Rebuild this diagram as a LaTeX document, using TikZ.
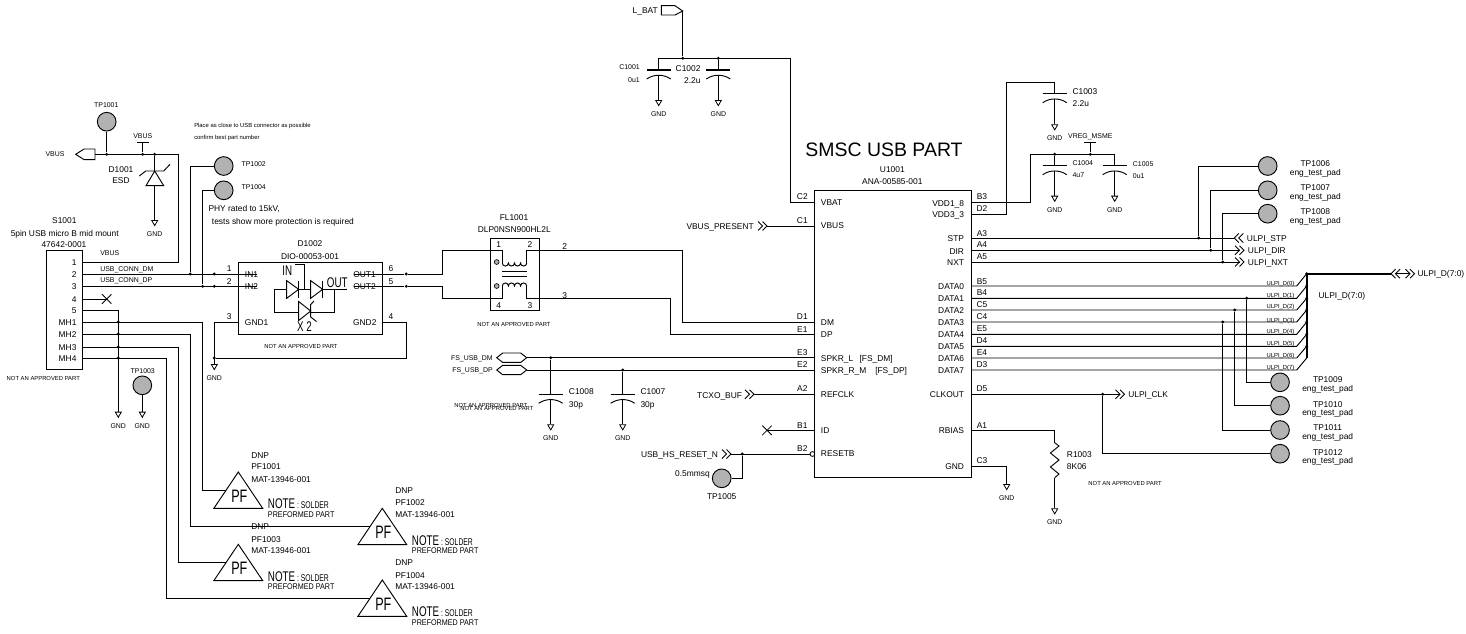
\documentclass[tikz,border=0pt]{standalone}
\usepackage{fontspec}
\setmainfont{Liberation Sans}
\newfontfamily\cadnarrow[FakeStretch=0.7]{Liberation Sans}
\newfontfamily\cadwide[FakeStretch=0.87]{Liberation Sans}
\usetikzlibrary{shapes.geometric,shapes.misc}
\newcommand{\gnd}[3]{%
  \node[gndtri] (#1) at (#2,#3) {};
  \node[lb2] (#1t) at ([yshift=-5.6pt]#1.south) {GND};
}
\tikzset{
    w1/.style={draw=black, line width=0.7pt},
    w2/.style={draw=black, line width=1.4pt},
    lb1/.style={font=\fontsize{4.4}{5}\selectfont, inner sep=0pt, text height=3.2pt, text depth=0pt},
    lb2/.style={font=\fontsize{5.2}{6}\selectfont, inner sep=0pt, text height=3.7pt, text depth=0pt},
    lb3/.style={font=\fontsize{6.3}{7}\selectfont, inner sep=0pt, text height=4.5pt, text depth=0pt},
    jn/.style={circle, fill=black, inner sep=0pt, minimum size=2.4pt},
    tp/.style={circle, draw=black, line width=0.7pt, fill=black!30, inner sep=0pt, minimum size=14pt},
    box/.style={draw=black, line width=0.7pt, inner sep=0pt},
    xm/.style={cross out, draw=black, line width=0.6pt, inner sep=0pt, minimum size=6.5pt},
    gndtri/.style={regular polygon, regular polygon sides=3, shape border rotate=180, draw=black,
        line width=0.6pt, inner sep=0pt, minimum size=5.2pt, anchor=north},
    chev/.pic={
        \draw[w1] (0,-4.5) -- (4.5,0) -- (0,4.5) (4.5,-4.5) -- (9,0) -- (4.5,4.5);
        \coordinate (-tip) at (9,0);
        \coordinate (-tail) at (4.5,0);
    },
    capa/.pic={
        \draw[draw=black, line width=1pt] (-12,0) -- (12,0);
        \draw[w1] (-12,9) .. controls (-5,4) and (5,4) .. (12,9);
        \coordinate (-t) at (0,0);
        \coordinate (-b) at (0,5.3);
    },
    pf/.pic={
        \draw[w1] (0,0) -- (24.4,36.3) -- (-24.4,36.3) -- cycle;
        \node[inner sep=0pt, font=\cadnarrow\fontsize{13.5}{14}\selectfont, text height=9.7pt, text depth=0pt] (-a) at (1,24) {PF};
        \node[anchor=west, inner sep=0pt, font=\cadnarrow\fontsize{7.3}{8}\selectfont, text height=5.2pt, text depth=0pt] (-b) at (29.4,33.5) {{\fontsize{10.5}{11}\selectfont NOTE} : SOLDER};
        \node[anchor=west, inner sep=0pt, font=\cadwide\fontsize{6.2}{7}\selectfont, text height=4.5pt, text depth=0pt] (-c) at (29.4,42.3) {PREFORMED PART};
        \coordinate (-in) at (-12,18);
    }
}
\begin{document}
\begin{tikzpicture}[x=0.75pt, y=-0.75pt]
\useasboundingbox (0,0) rectangle (1466,633);

% Connector S1001
\node[box, minimum width=27.3pt, minimum height=89.6pt] (S1) at (64.5,310) {};
\node[lb3] (S1a) at (64.3,220) {S1001};
\node[lb3] (S1b) at (64.7,233) {5pin USB micro B mid mount};
\node[lb3] (S1c) at (64,244) {47642-0001};
\node[lb3, anchor=east] (S1p1) at (76.7,262) {1};
\node[lb3, anchor=east] (S1p2) at (76.7,274) {2};
\node[lb3, anchor=east] (S1p3) at (76.7,286.3) {3};
\node[lb3, anchor=east] (S1p4) at (76.7,299) {4};
\node[lb3, anchor=east] (S1p5) at (76.7,310) {5};
\node[lb3, anchor=east] (S1p6) at (76.7,322) {MH1};
\node[lb3, anchor=east] (S1p7) at (76.7,334) {MH2};
\node[lb3, anchor=east] (S1p8) at (76.7,347) {MH3};
\node[lb3, anchor=east] (S1p9) at (76.7,358) {MH4};
\node[lb1] (S1n) at (43.3,378.7) {NOT AN APPROVED PART};
\node[lb2, anchor=west] (Lvb) at (100,253.3) {VBUS};
\node[lb2, anchor=west] (Ldm) at (100,269.3) {USB\_CONN\_DM};
\node[lb2, anchor=west] (Ldp) at (100,280) {USB\_CONN\_DP};
\coordinate (SP1) at (82.7,262);
\coordinate (SP2) at (82.7,274);
\coordinate (SP3) at (82.7,286.3);
\coordinate (SP4) at (82.7,299);
\coordinate (SP5) at (82.7,310);
\coordinate (SP6) at (82.7,322);
\coordinate (SP7) at (82.7,334);
\coordinate (SP8) at (82.7,347);
\coordinate (SP9) at (82.7,358);
\node[xm] (X1) at (106.7,299) {};
\node[jn] (JM1) at (118.3,322) {};
\node[jn] (JM2) at (118.3,334) {};
\node[jn] (JM3) at (118.3,347) {};
\node[jn] (JM4) at (118.3,358) {};
\coordinate (KM0) at (118.3,310);
\coordinate (KM1) at (202.7,322);
\coordinate (KM2) at (190.7,334);
\coordinate (KM3) at (178.7,347);
\coordinate (KM4) at (166.7,358);
\gnd{G1}{118.3}{411.7}

% VBUS net with D1001
\node[tp] (TP1) at (106.7,121.7) {};
\node[lb2] (TP1t) at (106.3,105) {TP1001};
\node[lb2] (Vbl) at (55,154.3) {VBUS};
\node[lb2] (Vbt) at (142.7,136.3) {VBUS};
\node[jn] (J1) at (106.7,154.3) {};
\node[jn] (J2) at (142.7,154.3) {};
\node[jn] (J3) at (154.7,154.3) {};
\coordinate (VBa) at (95,154.3);
\coordinate (VBb) at (142.7,142.3);
\coordinate (VBc) at (178.3,154.3);
\coordinate (VBd) at (154.7,171);
\coordinate (VBe) at (154.7,185.7);
\draw[w1] (75.7,154.3) -- (84,149) -- (95,149) -- (95,159.6) -- (84,159.6) -- cycle;
\draw[w1] (137,142.3) -- (148.7,142.3);
\draw[w1] (146,185.7) -- (163.7,185.7) -- (154.7,171) -- cycle;
\draw[w1] (139.3,176) -- (145.7,171) -- (163.7,171) -- (170,164.3);
\node[lb3] (D1a) at (121,169) {D1001};
\node[lb3] (D1b) at (121,180) {ESD};
\gnd{G2}{154.7}{220}

% Test points and notes
\node[lb1, anchor=west] (N1) at (194,125.7) {Place as close to USB connector as possible};
\node[lb1, anchor=west] (N2) at (194,137) {confirm best part number};
\node[tp] (TP2) at (223.7,166) {};
\node[lb2, anchor=west] (TP2t) at (241.3,163.7) {TP1002};
\node[tp] (TP4) at (223.7,190.3) {};
\node[lb2, anchor=west] (TP4t) at (241.3,187.3) {TP1004};
\node[lb3, anchor=west] (N3) at (208.3,208) {PHY rated to 15kV,};
\node[lb3, anchor=west] (N4) at (211.7,221) {tests show more protection is required};
\node[jn] (J4) at (190.3,274) {};
\node[jn] (J5) at (202.7,286.3) {};
\node[jn] (J6) at (214.3,274) {};
\node[jn] (J7) at (214.3,286.3) {};
\node[tp] (TP3) at (142.3,385.3) {};
\node[lb2] (TP3t) at (142.7,370.7) {TP1003};
\gnd{G3}{142.3}{411.7}

% D1002
\node[box, minimum width=108pt, minimum height=54.2pt] (D2) at (310.7,298.2) {};
\node[lb3] (D2a) at (310,243.7) {D1002};
\node[lb3] (D2b) at (310,256.7) {DIO-00053-001};
\node[lb3, anchor=west] (D2p1) at (244.7,274) {IN1};
\node[lb3, anchor=west] (D2p2) at (244.7,286.3) {IN2};
\node[lb3, anchor=west] (D2p3) at (244.7,322) {GND1};
\node[lb3, anchor=east] (D2p4) at (376.7,322) {GND2};
\node[lb3, anchor=east] (D2p5) at (376,286.3) {OUT2};
\node[lb3, anchor=east] (D2p6) at (376,274) {OUT1};
\node[lb3] (D2n1) at (229.3,268) {1};
\node[lb3] (D2n2) at (229.3,281) {2};
\node[lb3] (D2n3) at (229.3,316) {3};
\node[lb3] (D2n4) at (391,316) {4};
\node[lb3] (D2n5) at (391,281) {5};
\node[lb3] (D2n6) at (391,268) {6};
\node[lb1] (D2n) at (301,346.3) {NOT AN APPROVED PART};
\node[inner sep=0pt, font=\cadnarrow\fontsize{10.5}{11}\selectfont, text height=7.5pt, text depth=0pt] (Din) at (287.3,270) {IN};
\node[inner sep=0pt, font=\cadnarrow\fontsize{10.5}{11}\selectfont, text height=7.5pt, text depth=0pt] (Dout) at (337.3,282.7) {OUT};
\node[inner sep=0pt, font=\cadnarrow\fontsize{10.5}{11}\selectfont, text height=7.5pt, text depth=0pt] (Dx) at (304.5,326.7) {X 2};
\draw[w1] (295,264.7) -- (304.3,264.7) -- (304.3,289.3);
\draw[w1] (286.7,280.7) -- (298.7,289.3) -- (286.7,298.3) -- cycle;
\draw[w1] (298.7,280.7) -- (298.7,298.3);
\draw[w1] (310.7,280.7) -- (322.7,289.3) -- (310.7,298.3) -- cycle;
\draw[w1] (322.7,280.7) -- (322.7,298.3);
\draw[w1] (274.3,289.3) -- (286.7,289.3) (298.7,289.3) -- (310.7,289.3) (322.7,289.3) -- (346.7,289.3);
\draw[w1] (274.3,289.3) -- (274.3,312.3) -- (298.7,312.3);
\draw[w1] (334.7,289.3) -- (334.7,312.3) -- (310.7,312.3);
\draw[w1] (298.7,301.5) -- (310.7,311) -- (298.7,320.5) -- cycle;
\draw[w1] (314,301) -- (310.7,304.5) -- (310.7,317) -- (316.5,321.5);
\coordinate (DI1) at (256.7,274);
\coordinate (DI2) at (256.7,286.3);
\coordinate (DO1) at (354,274);
\coordinate (DO2) at (354,286.3);
\coordinate (DG1) at (238.7,322);
\coordinate (DG2) at (382.7,322);
\node[jn] (J8) at (406.3,274) {};
\node[jn] (J9) at (406.3,286.3) {};
\node[jn] (J10) at (214.3,358) {};
\coordinate (KG) at (406.3,358);
\gnd{G4}{214.3}{364}

% FL1001
\node[box, minimum width=36.2pt, minimum height=53.8pt] (FL) at (514.9,274.2) {};
\node[lb3] (FLa) at (514,217) {FL1001};
\node[lb3] (FLb) at (514.3,229) {DLP0NSN900HL2L};
\node[lb3] (FLn1) at (498.7,244.3) {1};
\node[lb3] (FLn2) at (530,244.3) {2};
\node[lb3] (FLn3) at (530,305) {3};
\node[lb3] (FLn4) at (498.7,305) {4};
\node[lb3] (FLw2) at (564.7,246.7) {2};
\node[lb3] (FLw3) at (564.7,295) {3};
\node[lb1] (FLn) at (514,324.3) {NOT AN APPROVED PART};
\node[circle, draw=black, line width=0.5pt, fill=black!30, inner sep=0pt, minimum size=3.6pt] (FLd1) at (496.7,262) {};
\node[circle, draw=black, line width=0.5pt, fill=black!30, inner sep=0pt, minimum size=3.6pt] (FLd2) at (496.7,286) {};
\draw[w1] (502.3,263) arc[start angle=180, end angle=0, radius=3.05] arc[start angle=180, end angle=0, radius=3.05] arc[start angle=180, end angle=0, radius=3.05] arc[start angle=180, end angle=0, radius=3.05];
\draw[w1] (502.3,286) arc[start angle=180, end angle=360, radius=3.05] arc[start angle=180, end angle=360, radius=3.05] arc[start angle=180, end angle=360, radius=3.05] arc[start angle=180, end angle=360, radius=3.05];
\draw[w1] (502.3,271.7) -- (526.7,271.7) (502.3,276.7) -- (526.7,276.7);
\coordinate (FA1) at (442.7,250.3);
\coordinate (FA2) at (442.7,298.3);
\coordinate (FB1) at (502.3,263);
\coordinate (FB2) at (502.3,286);
\coordinate (FC1) at (526.7,263);
\coordinate (FC2) at (526.7,286);
\coordinate (FD1) at (526.7,250.3);
\coordinate (FD2) at (526.7,298.3);
\coordinate (FK1) at (682.7,322);
\coordinate (FK2) at (670.7,334);

% L_BAT and C1001, C1002
\node[lb3, anchor=east] (Lb) at (658,10.7) {L\_BAT};
\draw[w1] (661.3,5.7) -- (675,5.7) -- (682.7,11) -- (675,15) -- (661.3,15) -- cycle;
\coordinate (Lbt) at (682.7,11);
\node[jn] (J11) at (682.7,58.3) {};
\node[jn] (J12) at (718.3,58.3) {};
\coordinate (KC1) at (658.7,58.3);
\coordinate (KC2) at (790.3,58.3);
\pic (C1) at (658.7,70) {capa};
\pic (C2) at (718.3,70) {capa};
\node[lb2, anchor=east] (C1a) at (640,67.3) {C1001};
\node[lb2, anchor=east] (C1b) at (640,79.7) {0u1};
\node[lb3, anchor=east] (C2a) at (700.7,68) {C1002};
\node[lb3, anchor=east] (C2b) at (700.7,80) {2.2u};
\gnd{G5}{658.7}{100}
\gnd{G6}{718.3}{100}

% C1003, C1004, C1005
\pic (C3) at (1054.7,93.7) {capa};
\node[lb3, anchor=west] (C3a) at (1072.3,91) {C1003};
\node[lb3, anchor=west] (C3b) at (1072.3,103) {2.2u};
\gnd{G7}{1054.7}{124.3}
\coordinate (KV1) at (1006.7,82);
\coordinate (KV2) at (1054.7,82);
\coordinate (KV3) at (1030.7,154.3);
\coordinate (KV4) at (1114.7,154.3);
\node[lb2] (Vr) at (1090.3,136.3) {VREG\_MSME};
\draw[w1] (1084.3,142.3) -- (1096.3,142.3);
\coordinate (Vrb) at (1090.3,142.3);
\node[jn] (J13) at (1054.7,154.3) {};
\node[jn] (J14) at (1090.3,154.3) {};
\pic (C4) at (1054.7,165.7) {capa};
\pic (C5) at (1114.7,165.7) {capa};
\node[lb2, anchor=west] (C4a) at (1072.3,163.3) {C1004};
\node[lb2, anchor=west] (C4b) at (1072.3,175) {4u7};
\node[lb2, anchor=west] (C5a) at (1132.7,163.7) {C1005};
\node[lb2, anchor=west] (C5b) at (1132.7,175.7) {0u1};
\gnd{G8}{1054.7}{195.7}
\gnd{G9}{1114.7}{195.7}

% U1001
\node[box, minimum width=117.2pt, minimum height=215.5pt] (U1) at (892.85,334) {};
\node[font=\fontsize{14.6}{16}\selectfont, inner sep=0pt] (U1t) at (884,150) {SMSC USB PART};
\node[lb3] (U1a) at (892.3,169) {U1001};
\node[lb3] (U1b) at (892.3,181) {ANA-00585-001};
\node[lb3, anchor=west] (UL1) at (820.7,202.7) {VBAT};
\node[lb3, anchor=west] (UL2) at (820.7,225.7) {VBUS};
\node[lb3, anchor=west] (UL3) at (820.7,322) {DM};
\node[lb3, anchor=west] (UL4) at (820.7,334) {DP};
\node[lb3, anchor=west] (UL5) at (820.7,358) {SPKR\_L};
\node[lb3, anchor=west] (UL5b) at (859.3,358) {[FS\_DM]};
\node[lb3, anchor=west] (UL6) at (820.7,370) {SPKR\_R\_M};
\node[lb3, anchor=west] (UL6b) at (875,370) {[FS\_DP]};
\node[lb3, anchor=west] (UL7) at (820.7,394.3) {REFCLK};
\node[lb3, anchor=west] (UL8) at (820.7,430) {ID};
\node[lb3, anchor=west] (UL9) at (820.7,453.7) {RESETB};
\node[lb3] (UPc2) at (802.3,196) {C2};
\node[lb3] (UPc1) at (802.3,220) {C1};
\node[lb3] (UPd1) at (802.3,316) {D1};
\node[lb3] (UPe1) at (802.3,329) {E1};
\node[lb3] (UPe3) at (802.3,352) {E3};
\node[lb3] (UPe2) at (802.3,364) {E2};
\node[lb3] (UPa2) at (802.3,388) {A2};
\node[lb3] (UPb1) at (802.3,425) {B1};
\node[lb3] (UPb2) at (802.3,448) {B2};
\node[lb3, anchor=east] (UR1) at (964.3,203.3) {VDD1\_8};
\node[lb3, anchor=east] (UR2) at (964.3,214.3) {VDD3\_3};
\node[lb3, anchor=east] (UR3) at (964.3,238.3) {STP};
\node[lb3, anchor=east] (UR4) at (964.3,251) {DIR};
\node[lb3, anchor=east] (UR5) at (964.3,262) {NXT};
\node[lb3, anchor=east] (UR6) at (964.3,286.3) {DATA0};
\node[lb3, anchor=east] (UR7) at (964.3,298.3) {DATA1};
\node[lb3, anchor=east] (UR8) at (964.3,310) {DATA2};
\node[lb3, anchor=east] (UR9) at (964.3,322) {DATA3};
\node[lb3, anchor=east] (UR10) at (964.3,334.3) {DATA4};
\node[lb3, anchor=east] (UR11) at (964.3,346.3) {DATA5};
\node[lb3, anchor=east] (UR12) at (964.3,358) {DATA6};
\node[lb3, anchor=east] (UR13) at (964.3,370) {DATA7};
\node[lb3, anchor=east] (UR14) at (964.3,394.7) {CLKOUT};
\node[lb3, anchor=east] (UR15) at (964.3,430) {RBIAS};
\node[lb3, anchor=east] (UR16) at (964.3,466) {GND};
\node[lb3] (UNb3) at (982,196) {B3};
\node[lb3] (UNd2) at (982,208.3) {D2};
\node[lb3] (UNa3) at (982,233) {A3};
\node[lb3] (UNa4) at (982,244) {A4};
\node[lb3] (UNa5) at (982,256) {A5};
\node[lb3] (UNb5) at (982,281) {B5};
\node[lb3] (UNb4) at (982,292.3) {B4};
\node[lb3] (UNc5) at (982,304) {C5};
\node[lb3] (UNc4) at (982,316) {C4};
\node[lb3] (UNe5) at (982,328) {E5};
\node[lb3] (UNd4) at (982,340.7) {D4};
\node[lb3] (UNe4) at (982,352) {E4};
\node[lb3] (UNd3) at (982,364) {D3};
\node[lb3] (UNd5) at (982,388) {D5};
\node[lb3] (UNa1) at (982,425.3) {A1};
\node[lb3] (UNc3) at (982,460) {C3};
% pins, left side
\coordinate (PC2) at (814.7,202.3);
\coordinate (PC1) at (814.7,226);
\coordinate (PD1) at (814.7,322);
\coordinate (PE1) at (814.7,334);
\coordinate (PE3) at (814.7,357.7);
\coordinate (PE2) at (814.7,370);
\coordinate (PA2) at (814.7,394.3);
\coordinate (PB1) at (814.7,430.3);
\node[circle, draw=black, line width=0.6pt, inner sep=0pt, minimum size=3.6pt] (PB2) at (812.4,454) {};
% pins, right side
\coordinate (PB3) at (971,202.3);
\coordinate (PD2) at (971,214);
\coordinate (PA3) at (971,238);
\coordinate (PA4) at (971,250.3);
\coordinate (PA5) at (971,262);
\coordinate (PB5) at (971,286);
\coordinate (PB4) at (971,298.3);
\coordinate (PC5) at (971,310);
\coordinate (PC4) at (971,322);
\coordinate (PE5) at (971,334.3);
\coordinate (PD4) at (971,346.3);
\coordinate (PE4) at (971,358);
\coordinate (PD3) at (971,370);
\coordinate (PD5) at (971,394.3);
\coordinate (PA1) at (971,430);
\coordinate (PC3) at (971,466);

% Left side nets of U1001
\node[lb3, anchor=east] (Lvp) at (754,226) {VBUS\_PRESENT};
\pic (CV1) at (758,226) {chev};
\node[lb3, anchor=east] (Ltc) at (742.3,395) {TCXO\_BUF};
\pic (CV2) at (745,394.3) {chev};
\node[xm] (X2) at (767,430.3) {};
\node[lb3, anchor=east] (Lrs) at (718.3,454) {USB\_HS\_RESET\_N};
\pic (CV3) at (722,454) {chev};
\node[jn] (J15) at (742.3,454) {};
\node[tp] (TP5) at (721.7,478.3) {};
\coordinate (KT5) at (742.3,478.3);
\node[lb3, anchor=east] (TP5a) at (710,473.3) {0.5mmsq};
\node[lb3] (TP5t) at (721.7,496) {TP1005};
\node[lb2, anchor=east] (Lfm) at (493,357.7) {FS\_USB\_DM};
\node[lb2, anchor=east] (Lfp) at (493,370) {FS\_USB\_DP};
\draw[w1] (496.7,357.7) -- (502.7,353) -- (520.7,353) -- (526.7,357.7) -- (520.7,362.4) -- (502.7,362.4) -- cycle;
\draw[w1] (496.7,370) -- (502.7,365.3) -- (520.7,365.3) -- (526.7,370) -- (520.7,374.7) -- (502.7,374.7) -- cycle;
\coordinate (HX1) at (526.7,357.7);
\coordinate (HX2) at (526.7,370);
\node[jn] (J16) at (550.7,357.7) {};
\node[jn] (J17) at (622.7,370) {};
\pic (C8) at (550.7,394.3) {capa};
\pic (C7) at (622.7,394.3) {capa};
\node[lb3, anchor=west] (C8a) at (568.7,391) {C1008};
\node[lb3, anchor=west] (C8b) at (568.7,404) {30p};
\node[lb3, anchor=west] (C7a) at (640.3,391) {C1007};
\node[lb3, anchor=west] (C7b) at (640.3,404) {30p};
\node[lb1, anchor=west] (C8n1) at (454,405.7) {NOT AN APPROVED PART};
\node[lb1, anchor=west] (C8n2) at (460,408.7) {NOT AN APPROVED PART};
\gnd{G10}{550.7}{424.3}
\gnd{G11}{622.7}{424.3}

% ULPI control nets
\node[tp] (TP6) at (1267.7,166) {};
\node[tp] (TP7) at (1267.7,190.3) {};
\node[tp] (TP8) at (1267.7,213.7) {};
\node[lb3] (TP6a) at (1315.3,163.7) {TP1006};
\node[lb3] (TP6b) at (1315.3,172.3) {eng\_test\_pad};
\node[lb3] (TP7a) at (1315.3,187.3) {TP1007};
\node[lb3] (TP7b) at (1315.3,196) {eng\_test\_pad};
\node[lb3] (TP8a) at (1315.3,211.7) {TP1008};
\node[lb3] (TP8b) at (1315.3,220.3) {eng\_test\_pad};
\node[jn] (J18) at (1198.7,238) {};
\node[jn] (J19) at (1210.7,250.3) {};
\node[jn] (J20) at (1222.7,262) {};
\pic[rotate=180] (CV4) at (1243.3,238) {chev};
\pic (CV5) at (1235,250.3) {chev};
\pic (CV6) at (1235,262) {chev};
\node[lb3, anchor=west] (Lst) at (1246.7,238) {ULPI\_STP};
\node[lb3, anchor=west] (Ldi) at (1247.7,250.7) {ULPI\_DIR};
\node[lb3, anchor=west] (Lnx) at (1247.7,262) {ULPI\_NXT};

% ULPI data bus
\node[jn] (B0) at (1306.7,273.7) {};
\node[jn] (B1) at (1306.7,286) {};
\node[jn] (B2) at (1306.7,298.3) {};
\node[jn] (B3) at (1306.7,310) {};
\node[jn] (B4) at (1306.7,322) {};
\node[jn] (B5) at (1306.7,334.3) {};
\node[jn] (B6) at (1306.7,346.3) {};
\coordinate (B7) at (1306.7,358);
\coordinate (E0) at (1296.7,286);
\coordinate (E1) at (1296.7,298.3);
\coordinate (E2) at (1296.7,310);
\coordinate (E3) at (1296.7,322);
\coordinate (E4) at (1296.7,334.3);
\coordinate (E5) at (1296.7,346.3);
\coordinate (E6) at (1296.7,358);
\coordinate (E7) at (1296.7,370);
\node[lb1, anchor=east] (T0) at (1294.6,283.7) {ULPI\_D(0)};
\node[lb1, anchor=east] (T1) at (1294.6,295.7) {ULPI\_D(1)};
\node[lb1, anchor=east] (T2) at (1294.6,306.7) {ULPI\_D(2)};
\node[lb1, anchor=east] (T3) at (1294.6,320) {ULPI\_D(3)};
\node[lb1, anchor=east] (T4) at (1294.6,331.7) {ULPI\_D(4)};
\node[lb1, anchor=east] (T5) at (1294.6,343.7) {ULPI\_D(5)};
\node[lb1, anchor=east] (T6) at (1294.6,355.3) {ULPI\_D(6)};
\node[lb1, anchor=east] (T7) at (1294.6,367.7) {ULPI\_D(7)};
\pic[rotate=180] (CV7) at (1400,273.7) {chev};
\pic (CV8) at (1405.5,273.7) {chev};
\node[lb3, anchor=west] (Lbu1) at (1417.3,273.7) {ULPI\_D(7:0)};
\node[lb3, anchor=west] (Lbu2) at (1318.3,295) {ULPI\_D(7:0)};
\node[jn] (J21) at (1246.7,298.3) {};
\node[jn] (J22) at (1234.7,310) {};
\node[jn] (J23) at (1222.7,322) {};
\node[tp] (TP9) at (1280,382.3) {};
\node[tp] (TP10) at (1280,405.7) {};
\node[tp] (TP11) at (1280,430) {};
\node[tp] (TP12) at (1280,453.7) {};
\node[lb3] (TP9a) at (1327.7,379.3) {TP1009};
\node[lb3] (TP9b) at (1327.7,388.3) {eng\_test\_pad};
\node[lb3] (TP10a) at (1327.7,404) {TP1010};
\node[lb3] (TP10b) at (1327.7,412.3) {eng\_test\_pad};
\node[lb3] (TP11a) at (1327.7,427.3) {TP1011};
\node[lb3] (TP11b) at (1327.7,436.3) {eng\_test\_pad};
\node[lb3] (TP12a) at (1327.7,452) {TP1012};
\node[lb3] (TP12b) at (1327.7,460.3) {eng\_test\_pad};

% CLKOUT, RBIAS, GND
\node[jn] (J24) at (1102.7,394.3) {};
\pic (CV9) at (1115.5,394.3) {chev};
\node[lb3, anchor=west] (Lck) at (1128,394.7) {ULPI\_CLK};
\coordinate (RT) at (1054.7,442.7);
\coordinate (RB) at (1054.7,477.7);
\draw[w1] (RT) -- (1059,446) -- (1050.4,453) -- (1059,460) -- (1050.4,467) -- (1059,474) -- (RB);
\node[lb3, anchor=west] (R1a) at (1066.7,454) {R1003};
\node[lb3, anchor=west] (R1b) at (1066.7,466) {8K06};
\node[lb1] (R1n) at (1125,483.7) {NOT AN APPROVED PART};
\gnd{G12}{1054.7}{508.3}
\gnd{G13}{1006.7}{484}

% PF parts
\pic (PF1) at (238.3,472) {pf};
\pic (PF2) at (382.3,508.3) {pf};
\pic (PF3) at (238.3,544.3) {pf};
\pic (PF4) at (382.3,580) {pf};
\node[lb3, anchor=west] (PF1a) at (251,455) {DNP};
\node[lb3, anchor=west] (PF1b) at (251,466) {PF1001};
\node[lb3, anchor=west] (PF1c) at (251,479) {MAT-13946-001};
\node[lb3, anchor=west] (PF2a) at (395,490.7) {DNP};
\node[lb3, anchor=west] (PF2b) at (395,502) {PF1002};
\node[lb3, anchor=west] (PF2c) at (395,514) {MAT-13946-001};
\node[lb3, anchor=west] (PF3a) at (251,526.7) {DNP};
\node[lb3, anchor=west] (PF3b) at (251,539) {PF1003};
\node[lb3, anchor=west] (PF3c) at (251,550) {MAT-13946-001};
\node[lb3, anchor=west] (PF4a) at (395,562.7) {DNP};
\node[lb3, anchor=west] (PF4b) at (395,575) {PF1004};
\node[lb3, anchor=west] (PF4c) at (395,586.7) {MAT-13946-001};

% Wires, connector side
\draw[w1] (VBa) -- (VBc) |- (SP1);
\draw[w1] (TP1) -- (J1);
\draw[w1] (VBb) -- (J2);
\draw[w1] (J3) -- (VBd);
\draw[w1] (VBe) -- (G2.north);
\draw[w1] (TP2) -| (J4);
\draw[w1] (TP4) -| (J5);
\draw[w1] (SP2) -- (DI1);
\draw[w1] (SP3) -- (DI2);
\draw[w1] (SP4) -- (X1.center);
\draw[w1] (SP5) -- (KM0) -- (G1.north);
\draw[w1] (SP6) -- (KM1) |- (PF1-in);
\draw[w1] (SP7) -- (KM2) |- (PF2-in);
\draw[w1] (SP8) -- (KM3) |- (PF3-in);
\draw[w1] (SP9) -- (KM4) |- (PF4-in);
\draw[w1] (TP3) -- (G3.north);

% Wires, D1002 and FL1001
\draw[w1] (DG1) -| (G4.north);
\draw[w1] (DG2) -| (KG) -- (J10);
\draw[w1] (DO1) -- (J8) -| (FA1) -| (FB1);
\draw[w1] (DO2) -- (J9) -| (FA2) -| (FB2);
\draw[w1] (FC1) -- (FD1) -| (FK1) -- (PD1);
\draw[w1] (FC2) -- (FD2) -| (FK2) -- (PE1);

% Wires, U1001 left side
\draw[w1] (Lbt) -- (J11);
\draw[w1] (KC1) -- (KC2) |- (PC2);
\draw[w1] (KC1) -- (C1-t);
\draw[w1] (J12) -- (C2-t);
\draw[w1] (C1-b) -- (G5.north);
\draw[w1] (C2-b) -- (G6.north);
\draw[w1] (CV1-tip) -- (PC1);
\draw[w1] (HX1) -- (PE3);
\draw[w1] (HX2) -- (PE2);
\draw[w1] (J16) -- (C8-t);
\draw[w1] (J17) -- (C7-t);
\draw[w1] (C8-b) -- (G10.north);
\draw[w1] (C7-b) -- (G11.north);
\draw[w1] (CV2-tip) -- (PA2);
\draw[w1] (X2.center) -- (PB1);
\draw[w1] (CV3-tip) -- (PB2);
\draw[w1] (J15) -- (KT5) -- (TP5);

% Wires, U1001 right side
\draw[w1] (PD2) -| (KV1) |- (KV2) -- (C3-t);
\draw[w1] (C3-b) -- (G7.north);
\draw[w1] (PB3) -| (KV3) -- (KV4) -- (C5-t);
\draw[w1] (Vrb) -- (J14);
\draw[w1] (J13) -- (C4-t);
\draw[w1] (C4-b) -- (G8.north);
\draw[w1] (C5-b) -- (G9.north);
\draw[w1] (PA3) -- (CV4-tip);
\draw[w1] (PA4) -- (CV5-tail);
\draw[w1] (PA5) -- (CV6-tail);
\draw[w1] (TP6) -| (J18);
\draw[w1] (TP7) -| (J19);
\draw[w1] (TP8) -| (J20);
\draw[w1] (PB5) -- (E0) -- (B0.center);
\draw[w1] (PB4) -- (E1) -- (B1.center);
\draw[w1] (PC5) -- (E2) -- (B2.center);
\draw[w1] (PC4) -- (E3) -- (B3.center);
\draw[w1] (PE5) -- (E4) -- (B4.center);
\draw[w1] (PD4) -- (E5) -- (B5.center);
\draw[w1] (PE4) -- (E6) -- (B6.center);
\draw[w1] (PD3) -- (E7) -- (B7);
\draw[w2] (B0.center) -- (B7);
\draw[w2] (B0.center) -- (CV7-tip);
\draw[w1] (CV7-tail) -- (CV8-tail);
\draw[w1] (J21) |- (TP9);
\draw[w1] (J22) |- (TP10);
\draw[w1] (J23) |- (TP11);
\draw[w1] (J24) |- (TP12);
\draw[w1] (PD5) -- (CV9-tail);
\draw[w1] (PA1) -| (RT);
\draw[w1] (RB) -- (G12.north);
\draw[w1] (PC3) -| (G13.north);

\end{tikzpicture}
\end{document}
